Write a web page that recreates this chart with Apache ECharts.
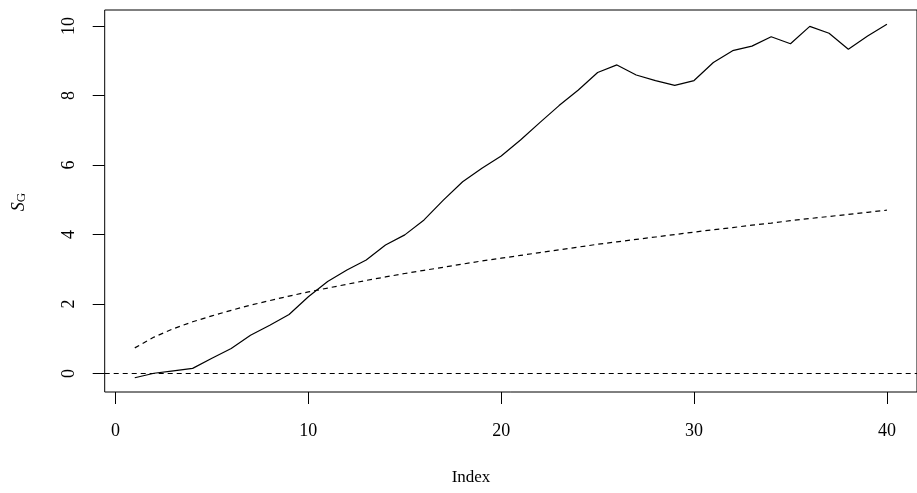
<!DOCTYPE html>
<html>
<head>
<meta charset="utf-8">
<script src="https://cdn.jsdelivr.net/npm/echarts@6/dist/echarts.min.js"></script>
<style>html,body{margin:0;padding:0;background:#fff;}#c{width:917px;height:493px;}</style>
</head>
<body>
<div id="c"></div>
<script>
var idx = [1,2,3,4,5,6,7,8,9,10,11,12,13,14,15,16,17,18,19,20,21,22,23,24,25,26,27,28,29,30,31,32,33,34,35,36,37,38,39,40];
var sG = [-0.12,0.01,0.08,0.15,0.44,0.72,1.10,1.39,1.70,2.21,2.65,2.98,3.27,3.70,3.99,4.42,4.99,5.52,5.91,6.26,6.72,7.22,7.71,8.16,8.66,8.88,8.59,8.43,8.29,8.43,8.95,9.29,9.42,9.69,9.49,9.99,9.79,9.33,9.71,10.05];
var bound = [0.74,1.05,1.29,1.49,1.66,1.82,1.97,2.10,2.23,2.35,2.46,2.57,2.68,2.78,2.88,2.97,3.06,3.15,3.24,3.32,3.40,3.48,3.56,3.64,3.72,3.79,3.86,3.93,4.00,4.07,4.14,4.20,4.27,4.33,4.40,4.46,4.52,4.58,4.64,4.70];
var xTicks = [0,10,20,30,40];
var yTicks = [0,2,4,6,8,10];
var refLine = 0;

var font = 'Liberation Serif';
var chart = echarts.init(document.getElementById('c'), null, {renderer:'canvas'});
function pairs(v){ return idx.map(function(x,i){ return [x, v[i]]; }); }
chart.setOption({
  animation:false,
  backgroundColor:'#fff',
  grid:{left:104.7, top:10, width:818.3, height:382, show:true, borderColor:'#000', borderWidth:1, backgroundColor:'transparent'},
  xAxis:{type:'value', min:-0.56, max:41.56,
    axisLine:{show:false, onZero:false}, splitLine:{show:false},
    axisTick:{show:true, inside:false, length:12, customValues:xTicks, lineStyle:{color:'#000', width:1}},
    axisLabel:{show:true, customValues:xTicks, margin:30, fontFamily:font, fontSize:18, color:'#000'}
  },
  yAxis:{type:'value', min:-0.53, max:10.46,
    axisLine:{show:false, onZero:false}, splitLine:{show:false},
    axisTick:{show:true, inside:false, length:12, customValues:yTicks, lineStyle:{color:'#000', width:1}},
    axisLabel:{show:true, customValues:yTicks, rotate:90, margin:26, fontFamily:font, fontSize:18, color:'#000'}
  },
  series:[
    {type:'line', data:pairs(sG), symbol:'none', lineStyle:{color:'#000', width:1.2}},
    {type:'line', data:pairs(bound), symbol:'none', lineStyle:{color:'#000', width:1.2, type:[5,4]},
     markLine:{silent:true, symbol:'none', label:{show:false}, lineStyle:{color:'#000', width:1.2, type:[5,4]}, data:[{yAxis:refLine}]}}
  ],
  graphic:[
    {type:'text', x:471, y:478, style:{text:'Index', font:'17px "Liberation Serif"', fill:'#000', align:'center', verticalAlign:'middle'}},
    {type:'text', x:19, y:202, rotation:Math.PI/2, style:{text:'{s|S}{g|G}', align:'center', verticalAlign:'middle', fill:'#000',
      rich:{s:{fontFamily:font, fontStyle:'italic', fontSize:18, fill:'#000'}, g:{fontFamily:font, fontSize:13, fill:'#000', padding:[6,0,0,0]}}}}
  ]
});
</script>
</body>
</html>
